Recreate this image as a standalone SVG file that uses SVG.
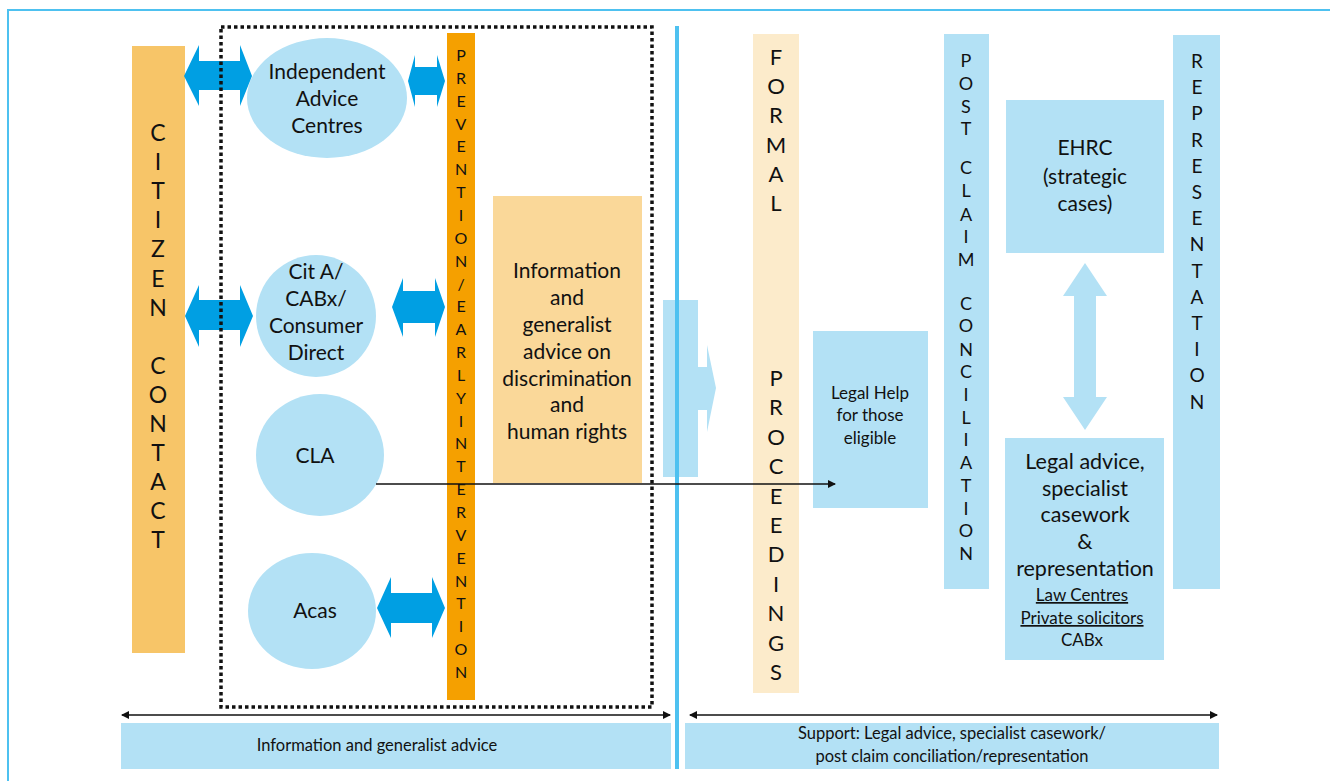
<svg xmlns="http://www.w3.org/2000/svg" width="1330" height="781" viewBox="0 0 1330 781">
<style>
text{font-family:"Lato","Liberation Sans",sans-serif;fill:#111;text-anchor:middle}
.n{font-size:21px}
.s{font-size:17px}
.b{font-size:16.5px}
.lb{fill:#b3e1f5}
.arr{fill:#009fe3}
.v23{font-size:23px}
.v16{font-size:16px}
.v22{font-size:22px}
.v18{font-size:18px}
.v19{font-size:19px}
.conn{stroke:#111;stroke-width:1.5;fill:none}
</style>
<defs>
<marker id="ah" markerWidth="8" markerHeight="8" refX="7" refY="4" orient="auto-start-reverse" markerUnits="userSpaceOnUse">
<path d="M0,0 L8,4 L0,8 Z" fill="#111"/>
</marker>
</defs>
<rect width="1330" height="781" fill="#fff"/>
<g id="frame">
<path d="M8,781 V10 H1330" fill="none" stroke="#4ec1f0" stroke-width="2"/>
</g>

<g id="citizen-contact">
<rect x="132" y="46" width="53" height="607" fill="#f7c568"/>
<text class="v23" x="158"><tspan x="158" y="141">C</tspan><tspan x="158" dy="29.1">I</tspan><tspan x="158" dy="29.1">T</tspan><tspan x="158" dy="29.1">I</tspan><tspan x="158" dy="29.1">Z</tspan><tspan x="158" dy="29.1">E</tspan><tspan x="158" dy="29.1">N</tspan><tspan x="158" dy="58.2">C</tspan><tspan x="158" dy="29.1">O</tspan><tspan x="158" dy="29.1">N</tspan><tspan x="158" dy="29.1">T</tspan><tspan x="158" dy="29.1">A</tspan><tspan x="158" dy="29.1">C</tspan><tspan x="158" dy="29.1">T</tspan></text>
</g>

<g id="independent-advice">
<ellipse cx="327" cy="98" rx="80" ry="60" class="lb"/>
<text class="n"><tspan x="327" y="79">Independent</tspan><tspan x="327" y="106">Advice</tspan><tspan x="327" y="133">Centres</tspan></text>
</g>

<g id="cit-a">
<ellipse cx="316" cy="316" rx="60" ry="61" class="lb"/>
<text class="n"><tspan x="316" y="279">Cit A/</tspan><tspan x="316" y="306">CABx/</tspan><tspan x="316" y="333">Consumer</tspan><tspan x="316" y="360">Direct</tspan></text>
</g>

<g id="cla">
<ellipse cx="320" cy="455" rx="64" ry="61" class="lb"/>
<text class="n" x="315" y="463">CLA</text>
</g>

<g id="acas">
<ellipse cx="312" cy="611" rx="64" ry="58" class="lb"/>
<text class="n" x="315" y="618">Acas</text>
</g>

<g id="double-arrows">
<polygon class="arr" points="184,76 199,45 199,61 240,61 240,45 252,76 240,106 240,90 199,90 199,106"/>
<polygon class="arr" points="408,81 415,55 415,67 437,67 437,55 445,81 437,107 437,95 415,95 415,107"/>
<polygon class="arr" points="185,316 199,285 199,300 240,300 240,285 253,316 240,347 240,330 199,330 199,347"/>
<polygon class="arr" points="392,307 403,278 403,291 435,291 435,278 445,307 435,337 435,323 403,323 403,337"/>
<polygon class="arr" points="377,608 391,577 391,593 432,593 432,577 445,608 432,638 432,623 391,623 391,638"/>
</g>

<g id="prevention">
<rect x="447" y="33" width="28" height="667" fill="#f5a000"/>
<text class="v16"><tspan x="461" y="61">P</tspan><tspan x="461" dy="22.85">R</tspan><tspan x="461" dy="22.85">E</tspan><tspan x="461" dy="22.85">V</tspan><tspan x="461" dy="22.85">E</tspan><tspan x="461" dy="22.85">N</tspan><tspan x="461" dy="22.85">T</tspan><tspan x="461" dy="22.85">I</tspan><tspan x="461" dy="22.85">O</tspan><tspan x="461" dy="22.85">N</tspan><tspan x="461" dy="22.85">/</tspan><tspan x="461" dy="22.85">E</tspan><tspan x="461" dy="22.85">A</tspan><tspan x="461" dy="22.85">R</tspan><tspan x="461" dy="22.85">L</tspan><tspan x="461" dy="22.85">Y</tspan><tspan x="461" dy="22.85">I</tspan><tspan x="461" dy="22.85">N</tspan><tspan x="461" dy="22.85">T</tspan><tspan x="461" dy="22.85">E</tspan><tspan x="461" dy="22.85">R</tspan><tspan x="461" dy="22.85">V</tspan><tspan x="461" dy="22.85">E</tspan><tspan x="461" dy="22.85">N</tspan><tspan x="461" dy="22.85">T</tspan><tspan x="461" dy="22.85">I</tspan><tspan x="461" dy="22.85">O</tspan><tspan x="461" dy="22.85">N</tspan></text>
</g>

<g id="information-box">
<rect x="493" y="196" width="149" height="287" fill="#fad899"/>
<text class="n"><tspan x="567" y="278">Information</tspan><tspan x="567" y="305">and</tspan><tspan x="567" y="332">generalist</tspan><tspan x="567" y="359">advice on</tspan><tspan x="567" y="386">discrimination</tspan><tspan x="567" y="412">and</tspan><tspan x="567" y="439">human rights</tspan></text>
</g>

<g id="dotted-boundary">
<rect x="221" y="27" width="431" height="680" fill="none" stroke="#111" stroke-width="3.5" stroke-dasharray="3.5 3"/>
</g>

<g id="block-arrow">
<polygon class="lb" points="663,300 698,300 698,367 707,367 707,345 716,388 707,432 707,410 698,410 698,477 663,477"/>
</g>

<g id="divider">
<line x1="677" y1="26" x2="677" y2="769" stroke="#4ec1f0" stroke-width="4"/>
</g>

<g id="formal-proceedings">
<rect x="753" y="34" width="46" height="659" fill="#fcebcb"/>
<text class="v22"><tspan x="776" y="65">F</tspan><tspan x="776" dy="29.2">O</tspan><tspan x="776" dy="29.2">R</tspan><tspan x="776" dy="29.2">M</tspan><tspan x="776" dy="29.2">A</tspan><tspan x="776" dy="29.2">L</tspan><tspan x="776" y="386">P</tspan><tspan x="776" dy="29.4">R</tspan><tspan x="776" dy="29.4">O</tspan><tspan x="776" dy="29.4">C</tspan><tspan x="776" dy="29.4">E</tspan><tspan x="776" dy="29.4">E</tspan><tspan x="776" dy="29.4">D</tspan><tspan x="776" dy="29.4">I</tspan><tspan x="776" dy="29.4">N</tspan><tspan x="776" dy="29.4">G</tspan><tspan x="776" dy="29.4">S</tspan></text>
</g>

<g id="legal-help">
<rect x="813" y="331" width="115" height="177" class="lb"/>
<text class="s"><tspan x="870" y="399">Legal Help</tspan><tspan x="870" y="421">for those</tspan><tspan x="870" y="444">eligible</tspan></text>
</g>

<g id="post-claim">
<rect x="944" y="34" width="45" height="555" class="lb"/>
<text class="v18"><tspan x="966" y="66.5">P</tspan><tspan x="966" y="89.5">O</tspan><tspan x="966" y="112.5">S</tspan><tspan x="966" y="134.5">T</tspan><tspan x="966" y="173.5">C</tspan><tspan x="966" y="196.5">L</tspan><tspan x="966" y="220.5">A</tspan><tspan x="966" y="242.5">I</tspan><tspan x="966" y="265.5">M</tspan><tspan x="966" y="309.5">C</tspan><tspan x="966" y="331.5">O</tspan><tspan x="966" y="355.5">N</tspan><tspan x="966" y="377.5">C</tspan><tspan x="966" y="400.5">I</tspan><tspan x="966" y="423.5">L</tspan><tspan x="966" y="445.5">I</tspan><tspan x="966" y="468.5">A</tspan><tspan x="966" y="491.5">T</tspan><tspan x="966" y="514.5">I</tspan><tspan x="966" y="536.5">O</tspan><tspan x="966" y="559.5">N</tspan></text>
</g>

<g id="ehrc">
<rect x="1006" y="100" width="158" height="153" class="lb"/>
<text class="n"><tspan x="1085" y="155">EHRC</tspan><tspan x="1085" y="184">(strategic</tspan><tspan x="1085" y="211">cases)</tspan></text>
</g>

<g id="vertical-arrow">
<polygon class="lb" points="1085,263 1107,296 1096,296 1096,397 1107,397 1085,430 1063,397 1074,397 1074,296 1063,296"/>
</g>

<g id="legal-advice">
<rect x="1005" y="438" width="159" height="222" class="lb"/>
<text class="n" style="font-size:21.5px"><tspan x="1085" y="469">Legal advice,</tspan><tspan x="1085" y="496">specialist</tspan><tspan x="1085" y="522">casework</tspan><tspan x="1085" y="549">&amp;</tspan><tspan x="1085" y="576">representation</tspan></text>
<text class="s"><tspan x="1082" y="601" text-decoration="underline">Law Centres</tspan><tspan x="1082" y="624" text-decoration="underline">Private solicitors</tspan><tspan x="1082" y="646">CABx</tspan></text>
</g>

<g id="representation">
<rect x="1173" y="35" width="47" height="554" class="lb"/>
<text class="v19"><tspan x="1197" y="68">R</tspan><tspan x="1197" dy="26.2">E</tspan><tspan x="1197" dy="26.2">P</tspan><tspan x="1197" dy="26.2">R</tspan><tspan x="1197" dy="26.2">E</tspan><tspan x="1197" dy="26.2">S</tspan><tspan x="1197" dy="26.2">E</tspan><tspan x="1197" dy="26.2">N</tspan><tspan x="1197" dy="26.2">T</tspan><tspan x="1197" dy="26.2">A</tspan><tspan x="1197" dy="26.2">T</tspan><tspan x="1197" dy="26.2">I</tspan><tspan x="1197" dy="26.2">O</tspan><tspan x="1197" dy="26.2">N</tspan></text>
</g>

<g id="bottom-left">
<rect x="121" y="723" width="550" height="46" class="lb"/>
<text class="b" x="377" y="751">Information and generalist advice</text>
</g>

<g id="bottom-right">
<rect x="685" y="723" width="534" height="46" class="lb"/>
<text class="b"><tspan x="952" y="739">Support: Legal advice, specialist casework/</tspan><tspan x="952" y="762">post claim conciliation/representation</tspan></text>
</g>

<g id="connectors">
<line class="conn" x1="376" y1="484" x2="835" y2="484" marker-end="url(#ah)"/>
<line class="conn" x1="122" y1="715" x2="670" y2="715" marker-start="url(#ah)" marker-end="url(#ah)"/>
<line class="conn" x1="690" y1="715" x2="1217" y2="715" marker-start="url(#ah)" marker-end="url(#ah)"/>
</g>
</svg>
